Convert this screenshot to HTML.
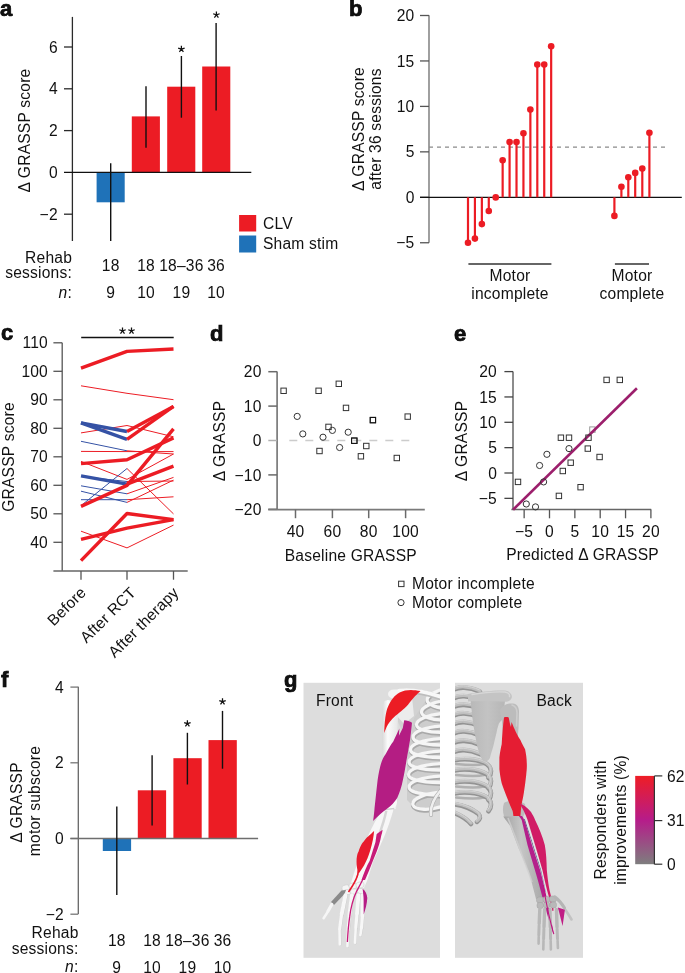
<!DOCTYPE html>
<html><head><meta charset="utf-8"><style>
html,body{margin:0;padding:0;background:#fff;}
svg{display:block;}
text{font-family:"Liberation Sans",sans-serif;font-size:15.6px;letter-spacing:0.2px;fill:#111;}
svg{will-change:transform;}
</style></head><body>
<svg width="685" height="973" viewBox="0 0 685 973">
<text x="0" y="15.5" font-weight="bold" style="font-size:22px"  stroke="#000" stroke-width="0.7">a</text>
<line x1="72.4" y1="16.9" x2="72.4" y2="241" stroke="#2a2a2a" stroke-width="1.3" />
<line x1="64" y1="47.000000000000014" x2="72.4" y2="47.000000000000014" stroke="#2a2a2a" stroke-width="1.3" />
<text x="57.8" y="52.600000000000016" text-anchor="end" >6</text>
<line x1="64" y1="88.80000000000001" x2="72.4" y2="88.80000000000001" stroke="#2a2a2a" stroke-width="1.3" />
<text x="57.8" y="94.4" text-anchor="end" >4</text>
<line x1="64" y1="130.60000000000002" x2="72.4" y2="130.60000000000002" stroke="#2a2a2a" stroke-width="1.3" />
<text x="57.8" y="136.20000000000002" text-anchor="end" >2</text>
<line x1="64" y1="214.2" x2="72.4" y2="214.2" stroke="#2a2a2a" stroke-width="1.3" />
<text x="57.8" y="219.79999999999998" text-anchor="end" >−2</text>
<text x="57.8" y="178.0" text-anchor="end" >0</text>
<rect x="96.6" y="172.4" width="28.1" height="29.900000000000006" fill="#1f72b8"/>
<rect x="131.8" y="116.4" width="28.1" height="56.0" fill="#ec1c24"/>
<rect x="167.2" y="86.7" width="28.1" height="85.7" fill="#ec1c24"/>
<rect x="202.2" y="66.5" width="28.1" height="105.9" fill="#ec1c24"/>
<line x1="64" y1="172.4" x2="251.3" y2="172.4" stroke="#111" stroke-width="1.2" />
<line x1="110.7" y1="163.2" x2="110.7" y2="241" stroke="#111" stroke-width="1.4" />
<line x1="146" y1="86.2" x2="146" y2="147.7" stroke="#111" stroke-width="1.4" />
<line x1="181.4" y1="56" x2="181.4" y2="117.7" stroke="#111" stroke-width="1.4" />
<line x1="216.1" y1="23.1" x2="216.1" y2="110.4" stroke="#111" stroke-width="1.4" />
<path d="M181.40,49.20 L181.40,45.80 M181.40,49.20 L184.63,48.15 M181.40,49.20 L183.40,51.95 M181.40,49.20 L179.40,51.95 M181.40,49.20 L178.17,48.15 " stroke="#111" stroke-width="1.25" stroke-linecap="butt" fill="none"/>
<path d="M216.40,14.80 L216.40,11.40 M216.40,14.80 L219.63,13.75 M216.40,14.80 L218.40,17.55 M216.40,14.80 L214.40,17.55 M216.40,14.80 L213.17,13.75 " stroke="#111" stroke-width="1.25" stroke-linecap="butt" fill="none"/>
<text transform="translate(29.9,130.5) rotate(-90)" text-anchor="middle">Δ GRASSP score</text>
<text x="72" y="262.5" text-anchor="end" >Rehab</text>
<text x="72" y="278" text-anchor="end" >sessions:</text>
<text x="72" y="297.5" text-anchor="end" ><tspan font-style="italic">n</tspan>:</text>
<text x="110.7" y="270.6" text-anchor="middle" >18</text>
<text x="110.7" y="297.5" text-anchor="middle" >9</text>
<text x="146" y="270.6" text-anchor="middle" >18</text>
<text x="146" y="297.5" text-anchor="middle" >10</text>
<text x="181.4" y="270.6" text-anchor="middle" >18–36</text>
<text x="181.4" y="297.5" text-anchor="middle" >19</text>
<text x="216.1" y="270.6" text-anchor="middle" >36</text>
<text x="216.1" y="297.5" text-anchor="middle" >10</text>
<rect x="239.1" y="215" width="17.1" height="16.5" fill="#ec1c24"/>
<rect x="239.1" y="235.5" width="17.1" height="17" fill="#1f72b8"/>
<text x="263" y="229" >CLV</text>
<text x="263" y="249" >Sham stim</text>
<text x="349" y="15.5" font-weight="bold" style="font-size:22px"  stroke="#000" stroke-width="0.7">b</text>
<line x1="429" y1="15.2" x2="429" y2="242.8" stroke="#777" stroke-width="1.4" />
<line x1="420" y1="15.5" x2="429" y2="15.5" stroke="#555" stroke-width="1.3" />
<text x="414.5" y="21.1" text-anchor="end" >20</text>
<line x1="420" y1="60.95000000000002" x2="429" y2="60.95000000000002" stroke="#555" stroke-width="1.3" />
<text x="414.5" y="66.55000000000001" text-anchor="end" >15</text>
<line x1="420" y1="106.4" x2="429" y2="106.4" stroke="#555" stroke-width="1.3" />
<text x="414.5" y="112.0" text-anchor="end" >10</text>
<line x1="420" y1="151.85000000000002" x2="429" y2="151.85000000000002" stroke="#555" stroke-width="1.3" />
<text x="414.5" y="157.45000000000002" text-anchor="end" >5</text>
<line x1="420" y1="197.3" x2="429" y2="197.3" stroke="#555" stroke-width="1.3" />
<text x="414.5" y="202.9" text-anchor="end" >0</text>
<line x1="420" y1="242.75" x2="429" y2="242.75" stroke="#555" stroke-width="1.3" />
<text x="414.5" y="248.35" text-anchor="end" >−5</text>
<line x1="429" y1="147.1" x2="668.4" y2="147.1" stroke="#8a8a8a" stroke-width="1.1" stroke-dasharray="4 4"/>
<line x1="420" y1="197.3" x2="681.8" y2="197.3" stroke="#111" stroke-width="1.2" />
<line x1="468.0" y1="197.3" x2="468.0" y2="242.7" stroke="#ec1c24" stroke-width="2.2" />
<circle cx="468.00" cy="242.7" r="3.3" fill="#ec1c24"/>
<line x1="474.93" y1="197.3" x2="474.93" y2="238.6" stroke="#ec1c24" stroke-width="2.2" />
<circle cx="474.93" cy="238.6" r="3.3" fill="#ec1c24"/>
<line x1="481.86" y1="197.3" x2="481.86" y2="224.1" stroke="#ec1c24" stroke-width="2.2" />
<circle cx="481.86" cy="224.1" r="3.3" fill="#ec1c24"/>
<line x1="488.79" y1="197.3" x2="488.79" y2="211" stroke="#ec1c24" stroke-width="2.2" />
<circle cx="488.79" cy="211" r="3.3" fill="#ec1c24"/>
<line x1="495.72" y1="197.3" x2="495.72" y2="197.4" stroke="#ec1c24" stroke-width="2.2" />
<circle cx="495.72" cy="197.4" r="3.3" fill="#ec1c24"/>
<line x1="502.65" y1="197.3" x2="502.65" y2="160.3" stroke="#ec1c24" stroke-width="2.2" />
<circle cx="502.65" cy="160.3" r="3.3" fill="#ec1c24"/>
<line x1="509.58" y1="197.3" x2="509.58" y2="142" stroke="#ec1c24" stroke-width="2.2" />
<circle cx="509.58" cy="142" r="3.3" fill="#ec1c24"/>
<line x1="516.51" y1="197.3" x2="516.51" y2="142" stroke="#ec1c24" stroke-width="2.2" />
<circle cx="516.51" cy="142" r="3.3" fill="#ec1c24"/>
<line x1="523.44" y1="197.3" x2="523.44" y2="133.2" stroke="#ec1c24" stroke-width="2.2" />
<circle cx="523.44" cy="133.2" r="3.3" fill="#ec1c24"/>
<line x1="530.37" y1="197.3" x2="530.37" y2="109.6" stroke="#ec1c24" stroke-width="2.2" />
<circle cx="530.37" cy="109.6" r="3.3" fill="#ec1c24"/>
<line x1="537.3" y1="197.3" x2="537.3" y2="64.6" stroke="#ec1c24" stroke-width="2.2" />
<circle cx="537.30" cy="64.6" r="3.3" fill="#ec1c24"/>
<line x1="544.23" y1="197.3" x2="544.23" y2="64.6" stroke="#ec1c24" stroke-width="2.2" />
<circle cx="544.23" cy="64.6" r="3.3" fill="#ec1c24"/>
<line x1="551.16" y1="197.3" x2="551.16" y2="46.3" stroke="#ec1c24" stroke-width="2.2" />
<circle cx="551.16" cy="46.3" r="3.3" fill="#ec1c24"/>
<line x1="614.4" y1="197.3" x2="614.4" y2="215.9" stroke="#ec1c24" stroke-width="2.2" />
<circle cx="614.4" cy="215.9" r="3.3" fill="#ec1c24"/>
<line x1="621.4" y1="197.3" x2="621.4" y2="186.7" stroke="#ec1c24" stroke-width="2.2" />
<circle cx="621.4" cy="186.7" r="3.3" fill="#ec1c24"/>
<line x1="628.3" y1="197.3" x2="628.3" y2="177.3" stroke="#ec1c24" stroke-width="2.2" />
<circle cx="628.3" cy="177.3" r="3.3" fill="#ec1c24"/>
<line x1="635.2" y1="197.3" x2="635.2" y2="172.9" stroke="#ec1c24" stroke-width="2.2" />
<circle cx="635.2" cy="172.9" r="3.3" fill="#ec1c24"/>
<line x1="642.3" y1="197.3" x2="642.3" y2="168.6" stroke="#ec1c24" stroke-width="2.2" />
<circle cx="642.3" cy="168.6" r="3.3" fill="#ec1c24"/>
<line x1="649.4" y1="197.3" x2="649.4" y2="132.8" stroke="#ec1c24" stroke-width="2.2" />
<circle cx="649.4" cy="132.8" r="3.3" fill="#ec1c24"/>
<line x1="468.4" y1="264" x2="551.4" y2="264" stroke="#333" stroke-width="1.5" />
<line x1="614.9" y1="264" x2="649" y2="264" stroke="#333" stroke-width="1.5" />
<text x="510" y="280.5" text-anchor="middle" >Motor</text>
<text x="510" y="298.5" text-anchor="middle" >incomplete</text>
<text x="632" y="280.5" text-anchor="middle" >Motor</text>
<text x="632" y="298.5" text-anchor="middle" >complete</text>
<text transform="translate(363.6,129) rotate(-90)" text-anchor="middle">Δ GRASSP score</text>
<text transform="translate(381.2,129) rotate(-90)" text-anchor="middle">after 36 sessions</text>
<text x="1" y="340" font-weight="bold" style="font-size:22px"  stroke="#000" stroke-width="0.7">c</text>
<line x1="62.2" y1="342.8" x2="62.2" y2="571" stroke="#555" stroke-width="1.3" />
<line x1="53.4" y1="342.8" x2="62.2" y2="342.8" stroke="#555" stroke-width="1.3" />
<text x="48" y="348.40000000000003" text-anchor="end" >110</text>
<line x1="53.4" y1="371.3" x2="62.2" y2="371.3" stroke="#555" stroke-width="1.3" />
<text x="48" y="376.90000000000003" text-anchor="end" >100</text>
<line x1="53.4" y1="399.8" x2="62.2" y2="399.8" stroke="#555" stroke-width="1.3" />
<text x="48" y="405.40000000000003" text-anchor="end" >90</text>
<line x1="53.4" y1="428.3" x2="62.2" y2="428.3" stroke="#555" stroke-width="1.3" />
<text x="48" y="433.90000000000003" text-anchor="end" >80</text>
<line x1="53.4" y1="456.8" x2="62.2" y2="456.8" stroke="#555" stroke-width="1.3" />
<text x="48" y="462.40000000000003" text-anchor="end" >70</text>
<line x1="53.4" y1="485.3" x2="62.2" y2="485.3" stroke="#555" stroke-width="1.3" />
<text x="48" y="490.90000000000003" text-anchor="end" >60</text>
<line x1="53.4" y1="513.8" x2="62.2" y2="513.8" stroke="#555" stroke-width="1.3" />
<text x="48" y="519.4" text-anchor="end" >50</text>
<line x1="53.4" y1="542.3" x2="62.2" y2="542.3" stroke="#555" stroke-width="1.3" />
<text x="48" y="547.9" text-anchor="end" >40</text>
<line x1="53.4" y1="571" x2="187.7" y2="571" stroke="#666" stroke-width="1.5" />
<line x1="81" y1="571" x2="81" y2="579.7" stroke="#555" stroke-width="1.3" />
<line x1="127" y1="571" x2="127" y2="579.7" stroke="#555" stroke-width="1.3" />
<line x1="173.5" y1="571" x2="173.5" y2="579.7" stroke="#555" stroke-width="1.3" />
<line x1="81.2" y1="337.5" x2="173.7" y2="337.5" stroke="#111" stroke-width="1.4" />
<path d="M122.50,330.80 L122.50,327.40 M122.50,330.80 L125.73,329.75 M122.50,330.80 L124.50,333.55 M122.50,330.80 L120.50,333.55 M122.50,330.80 L119.27,329.75 " stroke="#111" stroke-width="1.25" stroke-linecap="butt" fill="none"/>
<path d="M131.50,330.80 L131.50,327.40 M131.50,330.80 L134.73,329.75 M131.50,330.80 L133.50,333.55 M131.50,330.80 L129.50,333.55 M131.50,330.80 L128.27,329.75 " stroke="#111" stroke-width="1.25" stroke-linecap="butt" fill="none"/>
<text transform="translate(14,457) rotate(-90)" text-anchor="middle">GRASSP score</text>
<polyline points="81,385.8 127,393.3 173.5,399.7" fill="none" stroke="#ec1c24" stroke-width="1.0"/>
<polyline points="81,432.9 127,425.5 173.5,436.8" fill="none" stroke="#ec1c24" stroke-width="1.0"/>
<line x1="81" y1="441.3" x2="127" y2="450.8" stroke="#3552a5" stroke-width="1.0"/>
<line x1="127" y1="450.8" x2="173.5" y2="454.0" stroke="#ec1c24" stroke-width="1.0"/>
<polyline points="81,451.4 127,451.6 173.5,451.6" fill="none" stroke="#ec1c24" stroke-width="1.0"/>
<polyline points="81,461.4 127,479.4 173.5,454.0" fill="none" stroke="#ec1c24" stroke-width="1.0"/>
<line x1="81" y1="505.7" x2="127" y2="468.5" stroke="#3552a5" stroke-width="1.0"/>
<line x1="127" y1="468.5" x2="173.5" y2="513.9" stroke="#ec1c24" stroke-width="1.0"/>
<line x1="81" y1="485.8" x2="127" y2="493.8" stroke="#3552a5" stroke-width="1.0"/>
<line x1="127" y1="493.8" x2="173.5" y2="477.4" stroke="#ec1c24" stroke-width="1.0"/>
<line x1="81" y1="491.2" x2="127" y2="502.4" stroke="#3552a5" stroke-width="1.0"/>
<line x1="127" y1="502.4" x2="173.5" y2="480.1" stroke="#ec1c24" stroke-width="1.0"/>
<line x1="81" y1="499.7" x2="127" y2="499.7" stroke="#3552a5" stroke-width="1.0"/>
<line x1="127" y1="499.7" x2="173.5" y2="496.8" stroke="#ec1c24" stroke-width="1.0"/>
<polyline points="81,531.2 127,547.9 173.5,525.1" fill="none" stroke="#ec1c24" stroke-width="1.0"/>
<line x1="81" y1="476.5" x2="127" y2="481.5" stroke="#3552a5" stroke-width="1.0"/>
<line x1="127" y1="481.5" x2="173.5" y2="481.0" stroke="#ec1c24" stroke-width="1.0"/>
<polyline points="81,368.2 127,351.4 173.5,349.0" fill="none" stroke="#ec1c24" stroke-width="3.4" stroke-linejoin="round"/>
<line x1="81" y1="422.8" x2="127" y2="431.5" stroke="#3552a5" stroke-width="3.4"/>
<line x1="127" y1="431.5" x2="173.5" y2="406.4" stroke="#ec1c24" stroke-width="3.4"/>
<line x1="81" y1="422.8" x2="127" y2="439.3" stroke="#3552a5" stroke-width="3.4"/>
<line x1="127" y1="439.3" x2="173.5" y2="406.4" stroke="#ec1c24" stroke-width="3.4"/>
<polyline points="81,463.6 127,459.7 173.5,437.9" fill="none" stroke="#ec1c24" stroke-width="3.4" stroke-linejoin="round"/>
<line x1="81" y1="475.8" x2="127" y2="484.1" stroke="#3552a5" stroke-width="3.4"/>
<line x1="127" y1="484.1" x2="173.5" y2="466.2" stroke="#ec1c24" stroke-width="3.4"/>
<polyline points="81,506.4 127,485.4 173.5,428.9" fill="none" stroke="#ec1c24" stroke-width="3.4" stroke-linejoin="round"/>
<polyline points="81,539.4 127,528.2 173.5,519.6" fill="none" stroke="#ec1c24" stroke-width="3.4" stroke-linejoin="round"/>
<polyline points="81,560.6 127,513.5 173.5,519.6" fill="none" stroke="#ec1c24" stroke-width="3.4" stroke-linejoin="round"/>
<text transform="translate(87,593.5) rotate(-45)" text-anchor="end">Before</text>
<text transform="translate(136.8,593.5) rotate(-45)" text-anchor="end">After RCT</text>
<text transform="translate(179.7,593.5) rotate(-45)" text-anchor="end">After therapy</text>
<text x="210" y="340.5" font-weight="bold" style="font-size:22px"  stroke="#000" stroke-width="0.7">d</text>
<line x1="277.1" y1="371.5" x2="277.1" y2="509.6" stroke="#7a7a7a" stroke-width="1.7" />
<line x1="268.3" y1="371.7" x2="277.1" y2="371.7" stroke="#6a6a6a" stroke-width="1.5" />
<text x="261.6" y="377.3" text-anchor="end" >20</text>
<line x1="268.3" y1="406.1" x2="277.1" y2="406.1" stroke="#6a6a6a" stroke-width="1.5" />
<text x="261.6" y="411.70000000000005" text-anchor="end" >10</text>
<line x1="268.3" y1="440.5" x2="277.1" y2="440.5" stroke="#b0b0b0" stroke-width="1.5" />
<text x="261.6" y="446.1" text-anchor="end" >0</text>
<line x1="268.3" y1="474.9" x2="277.1" y2="474.9" stroke="#6a6a6a" stroke-width="1.5" />
<text x="261.6" y="480.5" text-anchor="end" >−10</text>
<line x1="268.3" y1="509.3" x2="277.1" y2="509.3" stroke="#6a6a6a" stroke-width="1.5" />
<text x="261.6" y="514.9" text-anchor="end" >−20</text>
<line x1="268.2" y1="509.6" x2="424.8" y2="509.6" stroke="#7a7a7a" stroke-width="1.6" />
<line x1="295.5" y1="509.6" x2="295.5" y2="518.2" stroke="#6a6a6a" stroke-width="1.5" />
<text x="295.5" y="537.4" text-anchor="middle" >40</text>
<line x1="332.4" y1="509.6" x2="332.4" y2="518.2" stroke="#6a6a6a" stroke-width="1.5" />
<text x="332.4" y="537.4" text-anchor="middle" >60</text>
<line x1="368.7" y1="509.6" x2="368.7" y2="518.2" stroke="#6a6a6a" stroke-width="1.5" />
<text x="368.7" y="537.4" text-anchor="middle" >80</text>
<line x1="405.6" y1="509.6" x2="405.6" y2="518.2" stroke="#6a6a6a" stroke-width="1.5" />
<text x="405.6" y="537.4" text-anchor="middle" >100</text>
<line x1="289.3" y1="440.5" x2="411.9" y2="440.5" stroke="#ccc" stroke-width="1.3" stroke-dasharray="8 8"/>
<text x="350.8" y="560.5" text-anchor="middle" >Baseline GRASSP</text>
<text transform="translate(224.8,441) rotate(-90)" text-anchor="middle">Δ GRASSP</text>
<rect x="280.90" y="388.10" width="5.4" height="5.4" fill="none" stroke="#333" stroke-width="1"/>
<rect x="315.90" y="388.10" width="5.4" height="5.4" fill="none" stroke="#333" stroke-width="1"/>
<rect x="336.10" y="381.10" width="5.4" height="5.4" fill="none" stroke="#333" stroke-width="1"/>
<rect x="343.30" y="405.20" width="5.4" height="5.4" fill="none" stroke="#333" stroke-width="1"/>
<rect x="370.20" y="417.40" width="5.4" height="5.4" fill="none" stroke="#333" stroke-width="1"/>
<rect x="405.00" y="413.90" width="5.4" height="5.4" fill="none" stroke="#333" stroke-width="1"/>
<rect x="325.80" y="424.20" width="5.4" height="5.4" fill="none" stroke="#333" stroke-width="1"/>
<rect x="351.60" y="438.00" width="5.4" height="5.4" fill="none" stroke="#333" stroke-width="1"/>
<rect x="363.60" y="443.30" width="5.4" height="5.4" fill="none" stroke="#333" stroke-width="1"/>
<rect x="316.80" y="448.30" width="5.4" height="5.4" fill="none" stroke="#333" stroke-width="1"/>
<rect x="358.20" y="453.60" width="5.4" height="5.4" fill="none" stroke="#333" stroke-width="1"/>
<rect x="394.10" y="455.30" width="5.4" height="5.4" fill="none" stroke="#333" stroke-width="1"/>
<rect x="370.20" y="417.40" width="5.4" height="5.4" fill="none" stroke="#111" stroke-width="1"/>
<rect x="351.60" y="438.00" width="5.4" height="5.4" fill="none" stroke="#111" stroke-width="1"/>
<circle cx="297.2" cy="416.4" r="3.1" fill="none" stroke="#333" stroke-width="1"/>
<circle cx="302.8" cy="433.9" r="3.1" fill="none" stroke="#333" stroke-width="1"/>
<circle cx="323" cy="437.2" r="3.1" fill="none" stroke="#333" stroke-width="1"/>
<circle cx="332.4" cy="430.4" r="3.1" fill="none" stroke="#333" stroke-width="1"/>
<circle cx="348.2" cy="432.2" r="3.1" fill="none" stroke="#333" stroke-width="1"/>
<circle cx="339.6" cy="447.5" r="3.1" fill="none" stroke="#333" stroke-width="1"/>
<text x="454" y="340.5" font-weight="bold" style="font-size:22px"  stroke="#000" stroke-width="0.7">e</text>
<line x1="513" y1="371.6" x2="513" y2="509.5" stroke="#666" stroke-width="1.5" />
<line x1="504.4" y1="371.6" x2="513" y2="371.6" stroke="#444" stroke-width="1.3" />
<text x="497" y="377.20000000000005" text-anchor="end" >20</text>
<line x1="504.4" y1="396.95" x2="513" y2="396.95" stroke="#444" stroke-width="1.3" />
<text x="497" y="402.55" text-anchor="end" >15</text>
<line x1="504.4" y1="422.3" x2="513" y2="422.3" stroke="#444" stroke-width="1.3" />
<text x="497" y="427.90000000000003" text-anchor="end" >10</text>
<line x1="504.4" y1="447.65" x2="513" y2="447.65" stroke="#444" stroke-width="1.3" />
<text x="497" y="453.25" text-anchor="end" >5</text>
<line x1="504.4" y1="473.0" x2="513" y2="473.0" stroke="#444" stroke-width="1.3" />
<text x="497" y="478.6" text-anchor="end" >0</text>
<line x1="504.4" y1="498.35" x2="513" y2="498.35" stroke="#444" stroke-width="1.3" />
<text x="497" y="503.95000000000005" text-anchor="end" >−5</text>
<line x1="511.4" y1="509.5" x2="651.2" y2="509.5" stroke="#666" stroke-width="1.5" />
<line x1="524.15" y1="509.5" x2="524.15" y2="518.3" stroke="#555" stroke-width="1.3" />
<text x="524.15" y="537.4" text-anchor="middle" >−5</text>
<line x1="549.5" y1="509.5" x2="549.5" y2="518.3" stroke="#555" stroke-width="1.3" />
<text x="549.5" y="537.4" text-anchor="middle" >0</text>
<line x1="574.85" y1="509.5" x2="574.85" y2="518.3" stroke="#555" stroke-width="1.3" />
<text x="574.85" y="537.4" text-anchor="middle" >5</text>
<line x1="600.2" y1="509.5" x2="600.2" y2="518.3" stroke="#555" stroke-width="1.3" />
<text x="600.2" y="537.4" text-anchor="middle" >10</text>
<line x1="625.55" y1="509.5" x2="625.55" y2="518.3" stroke="#555" stroke-width="1.3" />
<text x="625.55" y="537.4" text-anchor="middle" >15</text>
<line x1="650.9" y1="509.5" x2="650.9" y2="518.3" stroke="#555" stroke-width="1.3" />
<text x="650.9" y="537.4" text-anchor="middle" >20</text>
<text x="582.5" y="560" text-anchor="middle" >Predicted Δ GRASSP</text>
<text transform="translate(467.2,441) rotate(-90)" text-anchor="middle">Δ GRASSP</text>
<rect x="589.70" y="426.90" width="5.4" height="5.4" fill="none" stroke="#9a9a9a" stroke-width="1"/>
<line x1="513.1" y1="509.7" x2="636.9" y2="388.2" stroke="#9c1f6c" stroke-width="2.6" />
<rect x="603.90" y="377.20" width="5.4" height="5.4" fill="none" stroke="#333" stroke-width="1"/>
<rect x="617.10" y="377.20" width="5.4" height="5.4" fill="none" stroke="#333" stroke-width="1"/>
<rect x="558.20" y="435.00" width="5.4" height="5.4" fill="none" stroke="#333" stroke-width="1"/>
<rect x="566.30" y="435.00" width="5.4" height="5.4" fill="none" stroke="#333" stroke-width="1"/>
<rect x="585.80" y="435.00" width="5.4" height="5.4" fill="none" stroke="#333" stroke-width="1"/>
<rect x="585.10" y="445.90" width="5.4" height="5.4" fill="none" stroke="#333" stroke-width="1"/>
<rect x="596.90" y="454.30" width="5.4" height="5.4" fill="none" stroke="#333" stroke-width="1"/>
<rect x="568.00" y="460.00" width="5.4" height="5.4" fill="none" stroke="#333" stroke-width="1"/>
<rect x="560.10" y="468.30" width="5.4" height="5.4" fill="none" stroke="#333" stroke-width="1"/>
<rect x="515.30" y="479.20" width="5.4" height="5.4" fill="none" stroke="#333" stroke-width="1"/>
<rect x="577.90" y="484.50" width="5.4" height="5.4" fill="none" stroke="#333" stroke-width="1"/>
<rect x="556.20" y="493.20" width="5.4" height="5.4" fill="none" stroke="#333" stroke-width="1"/>
<circle cx="546.9" cy="454.3" r="3.1" fill="none" stroke="#333" stroke-width="1"/>
<circle cx="539.6" cy="465.5" r="3.1" fill="none" stroke="#333" stroke-width="1"/>
<circle cx="569" cy="448.6" r="3.1" fill="none" stroke="#333" stroke-width="1"/>
<circle cx="543.6" cy="481.9" r="3.1" fill="none" stroke="#333" stroke-width="1"/>
<circle cx="526.3" cy="504" r="3.1" fill="none" stroke="#333" stroke-width="1"/>
<circle cx="535.5" cy="506.9" r="3.1" fill="none" stroke="#333" stroke-width="1"/>
<rect x="398.60" y="581.20" width="5.4" height="5.4" fill="none" stroke="#333" stroke-width="1"/>
<circle cx="401" cy="602.6" r="3.1" fill="none" stroke="#333" stroke-width="1"/>
<text x="412" y="589" >Motor incomplete</text>
<text x="412" y="608" >Motor complete</text>
<text x="1" y="686.8" font-weight="bold" style="font-size:22px"  stroke="#000" stroke-width="0.7">f</text>
<line x1="78.3" y1="686.8" x2="78.3" y2="913.9" stroke="#666" stroke-width="1.3" />
<line x1="70.4" y1="687.1" x2="78.3" y2="687.1" stroke="#777" stroke-width="1.3" />
<text x="63.9" y="692.7" text-anchor="end" >4</text>
<line x1="70.4" y1="762.8" x2="78.3" y2="762.8" stroke="#777" stroke-width="1.3" />
<text x="63.9" y="768.4" text-anchor="end" >2</text>
<line x1="70.4" y1="838.5" x2="78.3" y2="838.5" stroke="#777" stroke-width="1.3" />
<text x="63.9" y="844.1" text-anchor="end" >0</text>
<line x1="70.4" y1="914.2" x2="78.3" y2="914.2" stroke="#777" stroke-width="1.3" />
<text x="63.9" y="919.8000000000001" text-anchor="end" >−2</text>
<rect x="102.8" y="838.5" width="28.3" height="12.5" fill="#1f72b8"/>
<rect x="137.8" y="790.3" width="28.3" height="48.200000000000045" fill="#ec1c24"/>
<rect x="173.4" y="758.2" width="28.3" height="80.29999999999995" fill="#ec1c24"/>
<rect x="208.5" y="740.1" width="28.3" height="98.39999999999998" fill="#ec1c24"/>
<line x1="70.4" y1="838.5" x2="258.1" y2="838.5" stroke="#6e6e6e" stroke-width="1.3" />
<line x1="116.8" y1="806.6" x2="116.8" y2="895.1" stroke="#111" stroke-width="1.4" />
<line x1="152.1" y1="755.3" x2="152.1" y2="825.6" stroke="#111" stroke-width="1.4" />
<line x1="187.4" y1="732.8" x2="187.4" y2="784.5" stroke="#111" stroke-width="1.4" />
<line x1="222.5" y1="710.9" x2="222.5" y2="768.7" stroke="#111" stroke-width="1.4" />
<path d="M187.40,723.60 L187.40,720.20 M187.40,723.60 L190.63,722.55 M187.40,723.60 L189.40,726.35 M187.40,723.60 L185.40,726.35 M187.40,723.60 L184.17,722.55 " stroke="#111" stroke-width="1.25" stroke-linecap="butt" fill="none"/>
<path d="M222.50,701.70 L222.50,698.30 M222.50,701.70 L225.73,700.65 M222.50,701.70 L224.50,704.45 M222.50,701.70 L220.50,704.45 M222.50,701.70 L219.27,700.65 " stroke="#111" stroke-width="1.25" stroke-linecap="butt" fill="none"/>
<text transform="translate(21.8,802.5) rotate(-90)" text-anchor="middle">Δ GRASSP</text>
<text transform="translate(39.9,801) rotate(-90)" text-anchor="middle">motor subscore</text>
<text x="78.5" y="938" text-anchor="end" >Rehab</text>
<text x="78.5" y="954.2" text-anchor="end" >sessions:</text>
<text x="78.5" y="972.2" text-anchor="end" ><tspan font-style="italic">n</tspan>:</text>
<text x="116.8" y="945.6" text-anchor="middle" >18</text>
<text x="116.8" y="972.6" text-anchor="middle" >9</text>
<text x="152.1" y="945.6" text-anchor="middle" >18</text>
<text x="152.1" y="972.6" text-anchor="middle" >10</text>
<text x="187.4" y="945.6" text-anchor="middle" >18–36</text>
<text x="187.4" y="972.6" text-anchor="middle" >19</text>
<text x="222.5" y="945.6" text-anchor="middle" >36</text>
<text x="222.5" y="972.6" text-anchor="middle" >10</text>
<text x="284" y="686.5" font-weight="bold" style="font-size:22px"  stroke="#000" stroke-width="0.7">g</text>

<defs>
<linearGradient id="cb" x1="0" y1="0" x2="0" y2="1"><stop offset="0" stop-color="#ee1d25"/><stop offset="0.5" stop-color="#b61c8a"/><stop offset="1" stop-color="#7e7e7e"/></linearGradient>
<linearGradient id="bonew" x1="0" y1="0" x2="1" y2="0"><stop offset="0" stop-color="#d9d9d9"/><stop offset="0.35" stop-color="#fbfbfb"/><stop offset="1" stop-color="#e6e6e6"/></linearGradient>
<linearGradient id="boneg" x1="0" y1="0" x2="1" y2="0"><stop offset="0" stop-color="#a2a2a2"/><stop offset="0.45" stop-color="#c6c6c6"/><stop offset="1" stop-color="#a9a9a9"/></linearGradient>
<linearGradient id="boneg2" x1="0" y1="0" x2="1" y2="0"><stop offset="0" stop-color="#b8b8b8"/><stop offset="0.5" stop-color="#c3c3c3"/><stop offset="1" stop-color="#b6b6b6"/></linearGradient>
<clipPath id="cpF"><rect x="303.5" y="682.8" width="136.5" height="275"/></clipPath>
<clipPath id="cpB"><rect x="455" y="682.8" width="128" height="275"/></clipPath>
</defs>
<rect x="303.5" y="682.8" width="136.5" height="275" fill="#dddddd"/>
<rect x="455" y="682.8" width="128" height="275" fill="#dddddd"/>
<g clip-path="url(#cpF)">
 <!-- scapula front / inner shading -->
 <path d="M398,696 L420,692 L440,694 L440,800 L418,806 L410,790 L406,740 L398,722 Z" fill="#d2d2d2"/>
 <path d="M396,700 L412,697 L414,716 L404,724 L397,716 Z" fill="#ececec"/>
 <!-- ribs -->
 <path d="M443,694 L428,697 L414,718 L407,760 L407,800 L418,811 L443,810 Z" fill="#cdcdcd"/>
 <g fill="none" stroke-linecap="round">
  <g stroke="#a9a9a9" stroke-width="4.6" transform="translate(0.4,1.1)"><path d="M443,689 C439,690 427,695 427,700 C427,705 439,708 443,708"/><path d="M443,701 C433.5,702 421.5,707 421.5,712 C421.5,717 433.5,720 443,720"/><path d="M443,713.5 C428.5,714.5 416.5,719.5 416.5,724.5 C416.5,729.5 428.5,732.5 443,732.5"/><path d="M443,726 C425,727 413,732 413,737 C413,742 425,745 443,745"/><path d="M443,738.5 C422.5,739.5 410.5,744.5 410.5,749.5 C410.5,754.5 422.5,757.5 443,757.5"/><path d="M443,751 C421,752 409,757 409,762 C409,767 421,770 443,770"/><path d="M443,763.5 C420.5,764.5 408.5,769.5 408.5,774.5 C408.5,779.5 420.5,782.5 443,782.5"/><path d="M443,776 C421,777 409,782 409,787 C409,792 421,795 443,795"/><path d="M443,792 C425,793 411,799 413,805 C415,810 430,811 443,806"/></g>
  <g stroke="#f5f5f5" stroke-width="3.3"><path d="M443,689 C439,690 427,695 427,700 C427,705 439,708 443,708"/><path d="M443,701 C433.5,702 421.5,707 421.5,712 C421.5,717 433.5,720 443,720"/><path d="M443,713.5 C428.5,714.5 416.5,719.5 416.5,724.5 C416.5,729.5 428.5,732.5 443,732.5"/><path d="M443,726 C425,727 413,732 413,737 C413,742 425,745 443,745"/><path d="M443,738.5 C422.5,739.5 410.5,744.5 410.5,749.5 C410.5,754.5 422.5,757.5 443,757.5"/><path d="M443,751 C421,752 409,757 409,762 C409,767 421,770 443,770"/><path d="M443,763.5 C420.5,764.5 408.5,769.5 408.5,774.5 C408.5,779.5 420.5,782.5 443,782.5"/><path d="M443,776 C421,777 409,782 409,787 C409,792 421,795 443,795"/><path d="M443,792 C425,793 411,799 413,805 C415,810 430,811 443,806"/></g>
  <path d="M441,790 C434,798 430,806 431,815" stroke="#b0b0b0" stroke-width="3.8"/>
  <path d="M441,790 C434,798 430,806 431,815" stroke="#efefef" stroke-width="2.6"/>
 </g>
 <!-- clavicle -->
 <path d="M394,693 C405,689 421,691 443,698.5" fill="none" stroke="#bdbdbd" stroke-width="5" stroke-linecap="round"/>
 <path d="M394,692 C405,688 421,690 443,697.5" fill="none" stroke="#f8f8f8" stroke-width="3.6" stroke-linecap="round"/>
 <!-- humerus -->
 <path d="M384.5,701 C382,705 382.2,720 382.4,740 L382.8,790 C382,797 383,806 386,809 L396,809 C397,803 396,797 395,792 L397,740 L398,715 C396,706 392,700 388,700 Z" fill="url(#bonew)"/>
 <ellipse cx="394" cy="694" rx="6" ry="4.5" fill="#f4f4f4"/>
 <!-- deltoid -->
 <path d="M384.2,733 C384.6,722 385.5,712 388.2,706.3 C391,700 395,695 399.2,692.8 C403,690.5 407,689.9 411,689.9 C414,690 417,690.4 420.5,691 C417,694 414,697 408,704.8 C403,710 398,714 395.5,715.8 C391,720 388,724 386.6,727 Z" fill="#ec1c24"/>
 <!-- elbow -->
 <path d="M383,797 C387,795 392,794.5 395,795.3 C397,798 397.5,802 396.5,804.8 C395.5,807 394.8,808 394.3,808.5 L384.1,810 C382.8,806 382.5,801 383,797 Z" fill="#f8f8f8"/>
 <path d="M384.1,809 L394.3,807.8 L393.8,810 L384,811.2 Z" fill="#cfcfcf"/>
 <!-- forearm bones -->
 <path d="M382.6,810.7 L393.6,809.2 C392,815 389,825 384.9,835 L373,862 L367.4,880 L364,888 L350,886 L355,870 L368.5,835 C373,825 377,817 382.6,810.7 Z" fill="#f7f7f7"/>
 <path d="M387.5,811 C386,818 384,825 381,833 L378.5,833 C381,825 383.5,818 385,811 Z" fill="#d6d6d6"/>
 <!-- biceps -->
 <path d="M404.2,720.3 C407,720.6 410,721.2 412,722.7 C411.5,728 410.8,734 410.2,739 C409,746 408,752 407,757.6 C405.5,766 404.5,773 403,779.4 C401.5,787 399.5,793 397.2,797.9 C394.5,802 391,806 387,808.8 C382,812.5 377.5,816.5 373.1,820.9 C374,815 374.3,811 374.6,807.5 C375.5,800 376.2,792 377,785.5 C377.8,778 378.8,772 380.2,766.6 C381.5,761 383.5,757 385.7,754 C388,749.5 390.5,745 393.3,741.5 C395.5,737 397.5,732 399.4,728.5 L398.9,735.8 L402.8,728 Z" fill="#b41d83"/>
 <!-- forearm red muscle -->
 <path d="M374.1,831 C373.8,836 372.5,843 370.3,850.2 C368.5,856 366.5,861 364,865.5 C362,869 359.5,872.5 358,874.7 C357.2,877 356.6,879 356,881.5 C356.8,877 357.2,874 357.4,870.1 C356.7,866 356.4,863 356.6,859 C357,855 357.8,852 358.6,851.4 C360,847 362,843 363.3,842 C366,838 368,836.5 369.7,835 C371.5,833.5 373,832 374.1,831 Z" fill="#e81a2d"/>
 <!-- forearm magenta strip -->
 <path d="M382.6,829.8 C382.2,833 381.8,834 381.4,835 C380,842 378.5,847 376.7,851.4 C374,858 372,863 369.7,868.9 C368,873 366.5,876.5 365,880 L361.5,880 C364,873 366.5,866 369.7,860.7 C372,853 374,847 375.5,842 C376,838 376.4,835 376.7,833.9 Z" fill="#c71b78"/>
 <!-- hand: carpals -->
 <g fill="#f5f5f5" stroke="#cccccc" stroke-width="0.6">
  <rect x="342" y="885" width="7.5" height="6" rx="2.5" transform="rotate(-15 346 888)"/>
  <rect x="349" y="883" width="7.5" height="6" rx="2.5" transform="rotate(-15 353 886)"/>
  <rect x="356" y="882" width="8" height="6" rx="2.5" transform="rotate(-15 360 885)"/>
  <rect x="344" y="889.5" width="7" height="5" rx="2.2"/>
  <rect x="350.5" y="889" width="7" height="5" rx="2.2"/>
  <rect x="357.5" y="888.5" width="7" height="5" rx="2.2"/>
 </g>
 <!-- thumb -->
 <path d="M346,890 L341.5,890.5 L331,902 L334,905 L344.5,894 Z" fill="#8a8a8a"/>
 <g stroke="#f6f6f6" stroke-linecap="round" fill="none">
  <path d="M331.8,904.5 L327.8,911.5" stroke-width="3.2"/>
  <path d="M327,913 L323.6,918.2" stroke-width="2.5"/>
 </g>
 <!-- fingers -->
 <g stroke="#c9c9c9" stroke-linecap="round" fill="none" transform="translate(0.3,0.3)"><path d="M345.44,895.28 L341.66,914.22" stroke-width="3.9"/><path d="M341.39,915.79 L339.61,929.21" stroke-width="3.2"/><path d="M339.52,930.80 L339.78,944.50" stroke-width="2.6"/><path d="M351.90,895.29 L349.40,915.21" stroke-width="3.9"/><path d="M349.23,916.80 L348.07,930.20" stroke-width="3.2"/><path d="M347.97,931.80 L347.43,946.20" stroke-width="2.6"/><path d="M358.44,895.30 L356.96,914.20" stroke-width="3.9"/><path d="M356.83,915.80 L355.77,927.70" stroke-width="3.2"/><path d="M355.66,929.30 L355.04,942.70" stroke-width="2.6"/><path d="M362.59,895.30 L362.41,916.20" stroke-width="3.9"/><path d="M362.33,917.80 L361.47,928.20" stroke-width="3.2"/><path d="M361.26,929.79 L360.34,935.21" stroke-width="2.6"/></g>
 <g stroke="#f7f7f7" stroke-linecap="round" fill="none"><path d="M345.44,895.28 L341.66,914.22" stroke-width="3.9"/><path d="M341.39,915.79 L339.61,929.21" stroke-width="3.2"/><path d="M339.52,930.80 L339.78,944.50" stroke-width="2.6"/><path d="M351.90,895.29 L349.40,915.21" stroke-width="3.9"/><path d="M349.23,916.80 L348.07,930.20" stroke-width="3.2"/><path d="M347.97,931.80 L347.43,946.20" stroke-width="2.6"/><path d="M358.44,895.30 L356.96,914.20" stroke-width="3.9"/><path d="M356.83,915.80 L355.77,927.70" stroke-width="3.2"/><path d="M355.66,929.30 L355.04,942.70" stroke-width="2.6"/><path d="M362.59,895.30 L362.41,916.20" stroke-width="3.9"/><path d="M362.33,917.80 L361.47,928.20" stroke-width="3.2"/><path d="M361.26,929.79 L360.34,935.21" stroke-width="2.6"/></g>
 <!-- tendons -->
 <path d="M358,874 C356,881 352,887 348.5,892" fill="none" stroke="#e81a2d" stroke-width="1.6"/>
 <path d="M366,872 C363,880 359.5,886 356.7,891 C352.5,900 350.5,910 349.7,916.7 C348.5,925 347.8,934 347.4,942" fill="none" stroke="#c9197a" stroke-width="1.3"/>
 <!-- small magenta muscle on hand -->
 <path d="M362.6,888.7 C365.5,891 367,894 367.3,898 C367,904 365.5,909 363.7,914.5 C363.5,908 363.8,902 363.5,897 C363.2,893 362.8,890.5 362.6,888.7 Z" fill="#b51d85"/>
</g>
<g clip-path="url(#cpB)">
 <!-- back ribs -->
 <g fill="none" stroke-linecap="round">
  <g stroke="#b0b0b0" stroke-width="2.4"><path d="M456,764 C466,765 476,766 484,764"/><path d="M456,775 C466,776 476,777 484,775"/><path d="M456,786.5 C466,787.5 476,788.5 484,786.5"/><path d="M456,797.5 C466,798.5 476,799.5 484,797.5"/></g>
  <g stroke="#939393" stroke-width="4.5" transform="translate(0,1)"><path d="M452,689.8 C458,685.3 469,685.8 480,690.8"/><path d="M452,698.4 C458,693.9 469,694.4 480,699.4"/><path d="M452,707 C458,702.5 469,703 480,708"/><path d="M452,715.6 C458,711.1 469,711.6 480,716.6"/><path d="M452,724.3 C458,719.8 469,720.3 480,725.3"/><path d="M452,733.6 C458,729.1 469,729.6 480,734.6"/><path d="M452,743 C458,738.5 469,739 480,744"/><path d="M452,752.3 C458,747.8 469,748.3 480,753.3"/><path d="M452,760 C462,757 478,758 486.5,763 C491.5,766 492.5,772 488.5,777"/><path d="M452,770.2 C462,767.2 478,768.2 486.5,773.2 C491.5,776.2 492.5,782.2 488.5,787.2"/><path d="M452,782.2 C462,779.2 478,780.2 486.5,785.2 C491.5,788.2 492.5,794.2 488.5,799.2"/><path d="M452,793.3 C462,790.3 478,791.3 486.5,796.3 C491.5,799.3 492.5,805.3 488.5,810.3"/><path d="M452,803 C462,804 472,808 478.5,813 C481,816 480,819 477,821"/><path d="M452,811 C460,814 467,818 471,823"/></g>
  <g stroke="#bfbfbf" stroke-width="3.3"><path d="M452,689.8 C458,685.3 469,685.8 480,690.8"/><path d="M452,698.4 C458,693.9 469,694.4 480,699.4"/><path d="M452,707 C458,702.5 469,703 480,708"/><path d="M452,715.6 C458,711.1 469,711.6 480,716.6"/><path d="M452,724.3 C458,719.8 469,720.3 480,725.3"/><path d="M452,733.6 C458,729.1 469,729.6 480,734.6"/><path d="M452,743 C458,738.5 469,739 480,744"/><path d="M452,752.3 C458,747.8 469,748.3 480,753.3"/><path d="M452,760 C462,757 478,758 486.5,763 C491.5,766 492.5,772 488.5,777"/><path d="M452,770.2 C462,767.2 478,768.2 486.5,773.2 C491.5,776.2 492.5,782.2 488.5,787.2"/><path d="M452,782.2 C462,779.2 478,780.2 486.5,785.2 C491.5,788.2 492.5,794.2 488.5,799.2"/><path d="M452,793.3 C462,790.3 478,791.3 486.5,796.3 C491.5,799.3 492.5,805.3 488.5,810.3"/><path d="M452,803 C462,804 472,808 478.5,813 C481,816 480,819 477,821"/><path d="M452,811 C460,814 467,818 471,823"/></g>
  <g stroke="#d4d4d4" stroke-width="1" transform="translate(-0.6,-0.9)"><path d="M452,689.8 C458,685.3 469,685.8 480,690.8"/><path d="M452,698.4 C458,693.9 469,694.4 480,699.4"/><path d="M452,707 C458,702.5 469,703 480,708"/><path d="M452,715.6 C458,711.1 469,711.6 480,716.6"/><path d="M452,724.3 C458,719.8 469,720.3 480,725.3"/><path d="M452,733.6 C458,729.1 469,729.6 480,734.6"/><path d="M452,743 C458,738.5 469,739 480,744"/><path d="M452,752.3 C458,747.8 469,748.3 480,753.3"/><path d="M452,760 C462,757 478,758 486.5,763 C491.5,766 492.5,772 488.5,777"/><path d="M452,770.2 C462,767.2 478,768.2 486.5,773.2 C491.5,776.2 492.5,782.2 488.5,787.2"/><path d="M452,782.2 C462,779.2 478,780.2 486.5,785.2 C491.5,788.2 492.5,794.2 488.5,799.2"/><path d="M452,793.3 C462,790.3 478,791.3 486.5,796.3 C491.5,799.3 492.5,805.3 488.5,810.3"/><path d="M452,803 C462,804 472,808 478.5,813 C481,816 480,819 477,821"/><path d="M452,811 C460,814 467,818 471,823"/></g>
 </g>
 <!-- scapula -->
 <path d="M470.3,694.9 C480,692 490,692 500,693 L505,701 L503,718.5 C501,721 499.5,722.5 498.9,723.5 C497.5,728 497,730 496.4,733.3 C494.5,741 493.5,746 492.3,749.8 C491.2,753 490.5,756 489.9,758 C488,761 486,762 484,761.5 C481,759 479,753 477.4,746.7 C476,740 475.3,736 474.6,732.3 C473,722 472,716 471.7,710.8 C471,705 470.5,700 470.3,694.9 Z" fill="url(#boneg2)"/>
 <path d="M468,694 C480,692 495,690 504.7,690.6 C509,691 512.5,694 511.8,697.5 C511,700.5 508,701.8 505,701.8 C495,701.5 485,701 468,701.5 Z" fill="#c4c4c4"/>
 <path d="M472,694.5 C484,692.5 496,691.5 505,692 C508,692.5 510,694 509.5,696.5" fill="none" stroke="#d8d8d8" stroke-width="1.4" stroke-linecap="round"/>
 <!-- humerus head & shaft -->
 <path d="M500,712 C501,705.5 507,703 513,703.5 C517,704 519,707 519,712 L518.5,728 C518,738 516.5,748 515,760 L504,760 L502,722 Z" fill="#bcbcbc"/>
 <path d="M512,705 C515.5,706 517,709 517,713 L516.5,726" fill="none" stroke="#cdcdcd" stroke-width="1.6" stroke-linecap="round"/>
 <!-- elbow -->
 <path d="M504,803 C508,800 520,800 525,804 C526,810 525,815 522,818 L506,820 C503,816 502,809 504,803 Z" fill="#bcbcbc"/>
 <!-- ulna/radius -->
 <path d="M503.2,816.4 L523,816.4 C525,822 526.5,828 527.7,835 L534.7,858.4 L541.7,880 L543,897 L536,899 L528.9,872 L518.4,848 L510.2,826 Z" fill="url(#boneg)"/>
 <path d="M508,818 C511,826 515,836 519,847 C523,858 528,870 532,882" fill="none" stroke="#cfcfcf" stroke-width="1.6" opacity="0.8"/>
 <!-- triceps -->
 <path d="M504,717.5 C505,717 507,717 508.7,717.4 L510,724 L511,727 L511.5,722 C514,728 518,737 520.4,740 C522,744 524,747 525.1,749.3 C526,754 526.7,758 526.8,763.4 C527,768 526.6,771 526.2,775 C525.5,781 524.8,787 523.9,792.6 C523,798 522.3,801 521.6,804.2 C521,808 520.8,812 520.4,815.9 L513.4,815.9 C513,812 512.7,811 512.2,810.1 C510,805 508,800 506.4,796.1 C504.5,791 503,787 501.7,783.2 C500.5,778 499.8,773 499.4,769.2 L499.4,757.5 C500,752 501,747 501.7,744.2 C502.2,735 503,725 504,717.5 Z" fill="#e51d33"/>
 <!-- purple strip -->
 <path d="M518.8,816 L522,816 C523,817.5 523.8,819 524.3,820 C527,828 529.5,836.5 532,845 C534.8,853.5 537.5,862 540.1,870 C542,877 543.5,883 545,890 C546.5,897 548,903 549.5,910 C551,918 552.5,926 553.5,934 C550.5,926 548.2,918 546,910 C544,903 542.3,897 540.5,890 C538.8,883 536.9,877 534.9,870 C532.5,862 530,853.5 527.5,845 C525.5,836.5 523.5,828 521.7,820 C520.7,818.5 519.7,817 518.8,816 Z" fill="#b41f8b"/>
 <path d="M524.5,819 C528,830 531,838 533,845 C536,855 538.5,862 541,870 C543,877 544.5,884 546,892" fill="none" stroke="#2b2f6a" stroke-width="0.7"/>
 <path d="M525.8,819 C529,830 532,838 534,845 C537,855 539.5,862 541.8,870 C543.5,877 545,884 546.5,892" fill="none" stroke="#e4e6e6" stroke-width="1.4"/>
 <!-- pink muscle -->
 <path d="M519.5,803.5 C523,804.5 527,807 531,812 C532.5,814.5 534,817 535.1,820 C539,828 542.5,836 544.8,845 C546.2,853 546.6,861 546.8,870 C547.5,877 548.2,883 549.5,890 C551,896 552.5,902 553.3,907 C553.5,909 553.5,910 553.3,911 L552.5,911 C551,904 549,897 547,890 C545.5,884 544,877 542.4,870 C540,861.5 537.5,853 535.1,845 C532.5,836.5 530,828 527.6,820 C525.5,814 523,809 519.5,803.5 Z" fill="#d11c66"/>
 <!-- hand back -->
 <g fill="#b9b9b9" stroke="#a0a0a0" stroke-width="0.5">
  <rect x="536.5" y="897" width="7" height="6" rx="2.5"/>
  <rect x="543" y="896.5" width="7" height="6" rx="2.5"/>
  <rect x="549.5" y="896" width="7" height="6" rx="2.5"/>
  <rect x="537" y="902.5" width="6.5" height="6" rx="2.5"/>
  <rect x="543.5" y="902" width="6.5" height="6" rx="2.5"/>
  <rect x="550" y="902" width="6.5" height="6" rx="2.5"/>
 </g>
 <path d="M555,897 C559,900 562,904 564.5,908" fill="none" stroke="#b5b5b5" stroke-width="3.2" stroke-linecap="round"/>
 <path d="M565.5,910 C567.5,913 569.5,916 571.5,919.5" fill="none" stroke="#c2c2c2" stroke-width="2.6" stroke-linecap="round"/>
 <g stroke="#b8b8b8" stroke-linecap="round" fill="none">
  <path d="M539.8,909.5 L539.2,923.5" stroke-width="3.4"/><path d="M539.1,925.5 L538.8,935" stroke-width="3"/><path d="M538.7,937 L538.6,943.6" stroke-width="2.6"/>
  <path d="M544.6,909.5 L544,927" stroke-width="3.4"/><path d="M543.9,929 L543.6,939" stroke-width="3"/><path d="M543.5,941 L543.3,949.4" stroke-width="2.6"/>
  <path d="M550,909.5 L550.3,927" stroke-width="3.4"/><path d="M550.4,929 L550.6,939" stroke-width="3"/><path d="M550.7,941 L550.9,949.4" stroke-width="2.6"/>
  <path d="M556.5,909.5 L557,927" stroke-width="3.4"/><path d="M557.1,929 L557.5,939" stroke-width="3"/><path d="M557.6,941 L557.9,948" stroke-width="2.6"/>
 </g>
 <path d="M553.8,934.2 C549,918 546,902 543,885" fill="none" stroke="#c0157f" stroke-width="1.1"/>
 <path d="M557.9,907.4 L564.9,909.7 L562.6,926.1 Z" fill="#c01d85"/>
</g>

<text x="316" y="706.3" >Front</text>
<text x="536.5" y="706.3" >Back</text>
<rect x="635.2" y="775.9" width="19.2" height="88.3" fill="url(#cb)"/>
<line x1="654.4" y1="775.9" x2="654.4" y2="864.2" stroke="#333" stroke-width="1.2" />
<line x1="654.4" y1="775.9" x2="662.3" y2="775.9" stroke="#333" stroke-width="1.2" />
<text x="667" y="781.5" >62</text>
<line x1="654.4" y1="820.6" x2="662.3" y2="820.6" stroke="#333" stroke-width="1.2" />
<text x="667" y="826.2" >31</text>
<line x1="654.4" y1="864.2" x2="662.3" y2="864.2" stroke="#333" stroke-width="1.2" />
<text x="667" y="869.8000000000001" >0</text>
<text transform="translate(606,820) rotate(-90)" text-anchor="middle">Responders with</text>
<text transform="translate(626,820) rotate(-90)" text-anchor="middle">improvements (%)</text>
</svg>
</body></html>
